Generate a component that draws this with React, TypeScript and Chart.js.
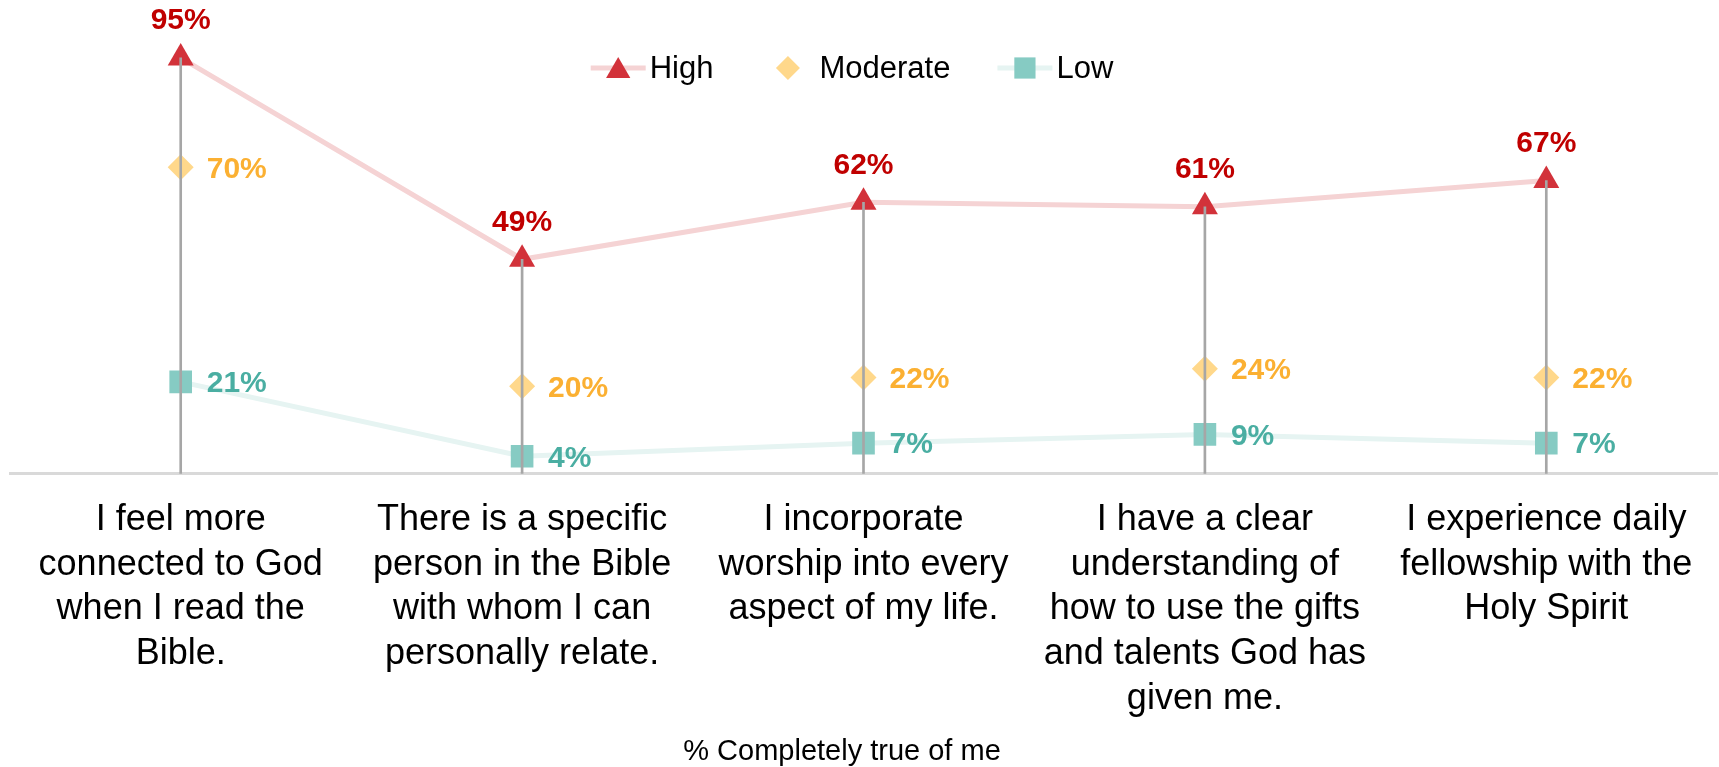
import React, { useEffect, useRef } from "react";
import { Chart, registerables } from "chart.js";

Chart.register(...registerables);

const categories: string[][] = [
  ["I feel more", "connected to God", "when I read the", "Bible."],
  ["There is a specific", "person in the Bible", "with whom I can", "personally relate."],
  ["I incorporate", "worship into every", "aspect of my life."],
  ["I have a clear", "understanding of", "how to use the gifts", "and talents God has", "given me."],
  ["I experience daily", "fellowship with the", "Holy Spirit"],
];
const highValues = [95, 49, 62, 61, 67];
const moderateValues = [70, 20, 22, 24, 22];
const lowValues = [21, 4, 7, 9, 7];
const seriesNames = ["High", "Moderate", "Low"];
const axisTitle = "% Completely true of me";

const RED = "#d2323a";
const RED_LINE = "#f5d3d4";
const RED_TEXT = "#c00000";
const YEL = "#ffd88b";
const YEL_TEXT = "#fbb032";
const TEAL = "#86cbc3";
const TEAL_LINE = "#e6f4f2";
const TEAL_TEXT = "#4aaea2";
const SANS = '"Liberation Sans", Arial, sans-serif';

function drawMarker(ctx: CanvasRenderingContext2D, style: string, x: number, y: number, r: number, color: string) {
  ctx.save();
  ctx.fillStyle = color;
  ctx.beginPath();
  if (style === "triangle") {
    for (let k = 0; k < 3; k++) {
      const a = (k * 2 * Math.PI) / 3;
      const px = x + Math.sin(a) * r;
      const py = y - Math.cos(a) * r;
      if (k === 0) ctx.moveTo(px, py);
      else ctx.lineTo(px, py);
    }
  } else if (style === "rectRot") {
    ctx.moveTo(x - r, y);
    ctx.lineTo(x, y - r);
    ctx.lineTo(x + r, y);
    ctx.lineTo(x, y + r);
  } else {
    const s = Math.SQRT1_2 * r;
    ctx.rect(x - s, y - s, 2 * s, 2 * s);
  }
  ctx.closePath();
  ctx.fill();
  ctx.restore();
}

const labelPlugin = {
  id: "valueLabels",
  afterDatasetsDraw(chart: any) {
    const ctx: CanvasRenderingContext2D = chart.ctx;
    const specs = [
      { idx: 1, color: RED_TEXT, mode: "top" },
      { idx: 2, color: YEL_TEXT, mode: "right" },
      { idx: 3, color: TEAL_TEXT, mode: "right" },
    ];
    ctx.save();
    ctx.font = `bold 30px ${SANS}`;
    specs.forEach((s) => {
      const meta = chart.getDatasetMeta(s.idx);
      const data = chart.data.datasets[s.idx].data as number[];
      meta.data.forEach((pt: any, i: number) => {
        const txt = `${data[i]}%`;
        ctx.fillStyle = s.color;
        ctx.textBaseline = "middle";
        if (s.mode === "top") {
          ctx.textAlign = "center";
          ctx.fillText(txt, pt.x, pt.y - 37);
        } else {
          ctx.textAlign = "left";
          ctx.fillText(txt, pt.x + 26, pt.y + 2);
        }
      });
    });
    ctx.restore();
  },
};

const legendPlugin = {
  id: "customLegend",
  afterDraw(chart: any) {
    const ctx: CanvasRenderingContext2D = chart.ctx;
    ctx.save();
    ctx.font = `31px ${SANS}`;
    const items = [
      { name: seriesNames[0], line: RED_LINE, style: "triangle", r: 14, color: RED },
      { name: seriesNames[1], line: null, style: "rectRot", r: 12, color: YEL },
      { name: seriesNames[2], line: TEAL_LINE, style: "rect", r: 15, color: TEAL },
    ];
    const sym = 55;
    const gapText = 4;
    const gapItem = 47;
    let total = 0;
    items.forEach((it, i) => {
      total += sym + gapText + ctx.measureText(it.name).width + (i < items.length - 1 ? gapItem : 0);
    });
    const cx = 852;
    const cy = 68;
    let x = cx - total / 2;
    items.forEach((it) => {
      if (it.line) {
        ctx.strokeStyle = it.line;
        ctx.lineWidth = 5;
        ctx.beginPath();
        ctx.moveTo(x, cy);
        ctx.lineTo(x + sym, cy);
        ctx.stroke();
      }
      drawMarker(ctx, it.style, x + sym / 2, cy + (it.style === "triangle" ? 3 : 0), it.r, it.color);
      x += sym + gapText;
      ctx.fillStyle = "#000";
      ctx.textAlign = "left";
      ctx.textBaseline = "middle";
      ctx.fillText(it.name, x, cy + 1);
      x += ctx.measureText(it.name).width + gapItem;
    });
    ctx.font = `29px ${SANS}`;
    ctx.textAlign = "center";
    ctx.fillStyle = "#000";
    ctx.fillText(axisTitle, 842, 752);
    ctx.restore();
  },
};

export default function App() {
  const ref = useRef<HTMLCanvasElement | null>(null);
  useEffect(() => {
    if (!ref.current) return;
    const chart = new Chart(ref.current, {
      data: {
        labels: categories,
        datasets: [
          {
            type: "bar",
            label: "drop",
            data: highValues,
            backgroundColor: "#a6a6a6",
            barThickness: 2,
            order: 0,
          } as any,
          {
            type: "line",
            label: seriesNames[0],
            data: highValues,
            borderColor: RED_LINE,
            borderWidth: 5,
            pointStyle: "triangle",
            pointRadius: 15,
            pointBackgroundColor: RED,
            pointBorderColor: RED,
            pointBorderWidth: 0,
            order: 1,
          },
          {
            type: "line",
            label: seriesNames[1],
            data: moderateValues,
            showLine: false,
            pointStyle: "rectRot",
            pointRadius: 13,
            pointBackgroundColor: YEL,
            pointBorderColor: YEL,
            pointBorderWidth: 0,
            order: 2,
          },
          {
            type: "line",
            label: seriesNames[2],
            data: lowValues,
            borderColor: TEAL_LINE,
            borderWidth: 5,
            pointStyle: "rect",
            pointRadius: 16,
            pointBackgroundColor: TEAL,
            pointBorderColor: TEAL,
            pointBorderWidth: 0,
            order: 3,
          },
        ],
      },
      options: {
        responsive: false,
        animation: false,
        layout: { autoPadding: false, padding: { left: 10, right: 2, top: 36, bottom: 46 } },
        plugins: {
          legend: { display: false },
          tooltip: { enabled: false },
        },
        scales: {
          x: {
            offset: true,
            grid: {
              display: true,
              drawOnChartArea: false,
              drawTicks: true,
              tickLength: 24,
              tickColor: "rgba(0,0,0,0)",
              color: "rgba(0,0,0,0)",
            },
            border: { display: true, color: "#d9d9d9", width: 3 },
            ticks: {
              autoSkip: false,
              maxRotation: 0,
              minRotation: 0,
              padding: 0,
              color: "#000",
              font: { family: SANS, size: 36, lineHeight: 1.24 },
            },
          },
          y: {
            display: false,
            min: 0,
            max: 100,
          },
        },
      },
      plugins: [labelPlugin, legendPlugin],
    } as any);
    return () => chart.destroy();
  }, []);
  return (
    <div style={{ position: "absolute", left: 0, top: 0, width: 1719, height: 767, background: "#fff" }}>
      <canvas ref={ref} width={1719} height={767} style={{ width: 1719, height: 767, display: "block" }} />
    </div>
  );
}
